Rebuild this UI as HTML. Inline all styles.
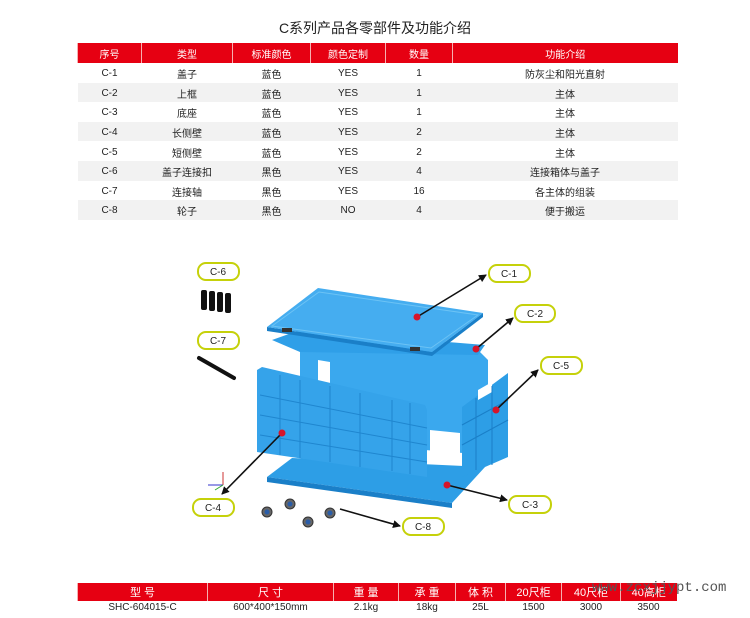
<!DOCTYPE html>
<html><head><meta charset="utf-8"><style>
body{margin:0;background:#fff;width:750px;height:611px;overflow:hidden;position:relative;font-family:"Liberation Sans","Noto Sans CJK SC",sans-serif;}
.t{position:absolute;left:0;width:750px;top:18px;text-align:center;font-size:14px;color:#222;}
table{position:absolute;border-collapse:collapse;font-size:10px;color:#222;table-layout:fixed}
td,th{text-align:center;padding:0;}
th{background:#e60012;color:#fff;font-weight:normal;border-left:1px solid #f6b0b0;}
#t1{left:77px;top:43px;width:600px}
#t1 th{height:20px}
#t1 td{height:19.6px;padding-top:2px;box-sizing:border-box}
#t1 tr:nth-child(odd) td{background:#f2f2f2}
#t2{left:77px;top:583px;width:599px}
#t2 th{height:18px;font-size:11px}
#t2 td{height:16px;vertical-align:top;padding-top:1px}
.wm{position:absolute;left:592px;top:580px;font-family:"Liberation Mono",monospace;font-size:14px;color:#555;}
</style></head><body>
<div class="t">C系列产品各零部件及功能介绍</div>
<table id="t1">
<colgroup><col style="width:64px"><col style="width:91px"><col style="width:78px"><col style="width:75px"><col style="width:67px"><col style="width:225px"></colgroup>
<tr><th>序号</th><th>类型</th><th>标准颜色</th><th>颜色定制</th><th>数量</th><th>功能介绍</th></tr>
<tr><td>C-1</td><td>盖子</td><td>蓝色</td><td>YES</td><td>1</td><td>防灰尘和阳光直射</td></tr>
<tr><td>C-2</td><td>上框</td><td>蓝色</td><td>YES</td><td>1</td><td>主体</td></tr>
<tr><td>C-3</td><td>底座</td><td>蓝色</td><td>YES</td><td>1</td><td>主体</td></tr>
<tr><td>C-4</td><td>长侧壁</td><td>蓝色</td><td>YES</td><td>2</td><td>主体</td></tr>
<tr><td>C-5</td><td>短侧壁</td><td>蓝色</td><td>YES</td><td>2</td><td>主体</td></tr>
<tr><td>C-6</td><td>盖子连接扣</td><td>黑色</td><td>YES</td><td>4</td><td>连接箱体与盖子</td></tr>
<tr><td>C-7</td><td>连接轴</td><td>黑色</td><td>YES</td><td>16</td><td>各主体的组装</td></tr>
<tr><td>C-8</td><td>轮子</td><td>黑色</td><td>NO</td><td>4</td><td>便于搬运</td></tr>
</table>

<svg width="750" height="611" style="position:absolute;left:0;top:0">
<defs><marker id="a" markerWidth="8" markerHeight="8" refX="7" refY="4" orient="auto" markerUnits="userSpaceOnUse"><path d="M0,0L8,4L0,8z" fill="#111"/></marker></defs>
<!-- base -->
<polygon points="267,477 292,458 485,467 452,503" fill="#2d9ee6"/>
<polygon points="267,477 452,503 452,508 267,482" fill="#1a7fc8"/>
<!-- back wall -->
<polygon points="300,350 320,345 480,352 488,360 488,455 300,440" fill="#3aa8ee"/>
<polygon points="318,360 330,362 330,395 318,393" fill="#fff"/>
<polygon points="430,430 460,433 460,455 430,452" fill="#fff"/>
<!-- upper frame -->
<polygon points="272,340 300,330 485,345 478,355 300,352" fill="#2f9fe8"/>
<!-- right short wall -->
<polygon points="462,407 508,373 508,457 462,477" fill="#2d9ee6"/>
<polygon points="478,390 492,382 492,392 478,400" fill="#fff"/>
<line x1="462" y1="425" x2="508" y2="400" stroke="#1a7fc8"/><line x1="462" y1="445" x2="508" y2="420" stroke="#1a7fc8"/>
<line x1="476" y1="398" x2="476" y2="470" stroke="#1a7fc8"/><line x1="492" y1="386" x2="492" y2="465" stroke="#1a7fc8"/>
<!-- front long wall -->
<polygon points="257,370 262,367 425,405 427,410 427,477 257,452" fill="#35a3ea"/>
<g stroke="#1f86cf" stroke-width="1">
<line x1="260" y1="395" x2="427" y2="428"/><line x1="260" y1="415" x2="427" y2="445"/><line x1="260" y1="435" x2="427" y2="462"/>
<line x1="280" y1="375" x2="280" y2="455"/><line x1="300" y1="380" x2="300" y2="458"/><line x1="330" y1="386" x2="330" y2="462"/><line x1="360" y1="393" x2="360" y2="467"/><line x1="392" y1="400" x2="392" y2="471"/><line x1="410" y1="403" x2="410" y2="474"/>
</g>
<!-- lid -->
<polygon points="432,352 483,313 483,317 432,356 267,331 267,327" fill="#1a7fc8"/>
<polygon points="267,327 318,288 483,313 432,352" fill="#45adf0"/>
<polygon points="272,326 319,292 478,315 431,348" fill="none" stroke="#6cc3f5" stroke-width="1"/>
<rect x="282" y="328" width="10" height="4" fill="#333"/><rect x="410" y="347" width="10" height="4" fill="#333"/>
<!-- C-6 clips -->
<g fill="#111"><rect x="201" y="290" width="6" height="20" rx="2"/><rect x="209" y="291" width="6" height="20" rx="2"/><rect x="217" y="292" width="6" height="20" rx="2"/><rect x="225" y="293" width="6" height="20" rx="2"/></g>
<line x1="199" y1="358" x2="234" y2="378" stroke="#111" stroke-width="4" stroke-linecap="round"/>
<!-- wheels -->
<g fill="#666" stroke="#333"><circle cx="267" cy="512" r="5"/><circle cx="290" cy="504" r="5"/><circle cx="308" cy="522" r="5"/><circle cx="330" cy="513" r="5"/></g>
<g fill="#2a5da8"><circle cx="267" cy="512" r="2.5"/><circle cx="290" cy="504" r="2.5"/><circle cx="308" cy="522" r="2.5"/><circle cx="330" cy="513" r="2.5"/></g>
<line x1="223" y1="472" x2="223" y2="485" stroke="#c33"/><line x1="208" y1="485" x2="223" y2="485" stroke="#33c"/><line x1="223" y1="485" x2="215" y2="490" stroke="#3a3"/>
<!-- arrows -->
<g stroke="#111" stroke-width="1.6" marker-end="url(#a)">
<line x1="417" y1="317" x2="486" y2="275"/>
<line x1="476" y1="349" x2="513" y2="318"/>
<line x1="496" y1="410" x2="538" y2="370"/>
<line x1="282" y1="433" x2="222" y2="494"/>
<line x1="447" y1="485" x2="507" y2="500"/>
<line x1="340" y1="509" x2="400" y2="526"/>
</g>
<g fill="#d7152a"><circle cx="417" cy="317" r="3.5"/><circle cx="476" cy="349" r="3.5"/><circle cx="496" cy="410" r="3.5"/><circle cx="282" cy="433" r="3.5"/><circle cx="447" cy="485" r="3.5"/></g>
<g fill="#fff" stroke="#c5d10a" stroke-width="2">
<rect x="198" y="263" width="41" height="17" rx="8"/>
<rect x="489" y="265" width="41" height="17" rx="8"/>
<rect x="515" y="305" width="40" height="17" rx="8"/>
<rect x="198" y="332" width="41" height="17" rx="8"/>
<rect x="541" y="357" width="41" height="17" rx="8"/>
<rect x="193" y="499" width="41" height="17" rx="8"/>
<rect x="509" y="496" width="42" height="17" rx="8"/>
<rect x="403" y="518" width="41" height="17" rx="8"/>
</g>
<g font-family="Liberation Sans,sans-serif" font-size="10" fill="#222" text-anchor="middle">
<text x="218" y="275">C-6</text><text x="509" y="277">C-1</text><text x="535" y="317">C-2</text><text x="218" y="344">C-7</text>
<text x="561" y="369">C-5</text><text x="213" y="511">C-4</text><text x="530" y="508">C-3</text><text x="423" y="530">C-8</text>
</g>
</svg>

<table id="t2">
<colgroup><col style="width:130px"><col style="width:126px"><col style="width:65px"><col style="width:57px"><col style="width:50px"><col style="width:56px"><col style="width:59px"><col style="width:56px"></colgroup>
<tr><th>型 号</th><th>尺 寸</th><th>重 量</th><th>承 重</th><th>体 积</th><th>20尺柜</th><th>40尺柜</th><th>40高柜</th></tr>
<tr><td>SHC-604015-C</td><td>600*400*150mm</td><td>2.1kg</td><td>18kg</td><td>25L</td><td>1500</td><td>3000</td><td>3500</td></tr>
</table>
<div class="wm">www.zcxjjypt.com</div>
</body></html>
